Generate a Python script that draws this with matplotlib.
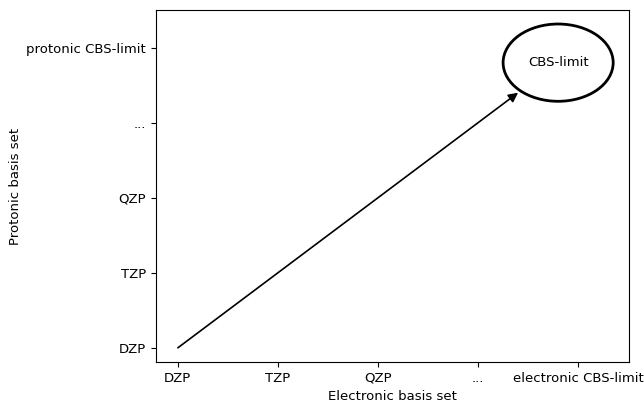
import matplotlib
matplotlib.use("Agg")
import matplotlib.pyplot as plt
from matplotlib.patches import Ellipse

x_labels = ["DZP", "TZP", "QZP", "...", "electronic CBS-limit"]
y_labels = ["DZP", "TZP", "QZP", "...", "protonic CBS-limit"]
arrow_start = (0, 0)
arrow_end = (3.4, 3.4)
cbs_center = (3.8, 3.8)

plt.rcParams["font.size"] = 9.5

fig = plt.figure(figsize=(6.44, 4.05), dpi=100)
ax = fig.add_axes([0.242, 0.106, 0.735, 0.869])

ax.set_xticks(range(len(x_labels)))
ax.set_xticklabels(x_labels)
ax.set_yticks(range(len(y_labels)))
ax.set_yticklabels(y_labels)
ax.set_xlim(-0.22, 4.51)
ax.set_ylim(-0.19, 4.5)

ax.annotate("", xy=arrow_end, xytext=arrow_start,
            arrowprops=dict(arrowstyle="-|>", color="black", lw=1.2,
                            mutation_scale=14, shrinkA=0, shrinkB=0))

ell = Ellipse(cbs_center, width=1.1, height=1.03, fill=False,
              edgecolor="black", lw=2)
ax.add_patch(ell)
ax.text(cbs_center[0], cbs_center[1], "CBS-limit", ha="center", va="center", fontsize=9.5)

ax.set_xlabel("Electronic basis set", labelpad=4)
ax.set_ylabel("Protonic basis set", labelpad=3)

fig.savefig("out.png", dpi=100)
